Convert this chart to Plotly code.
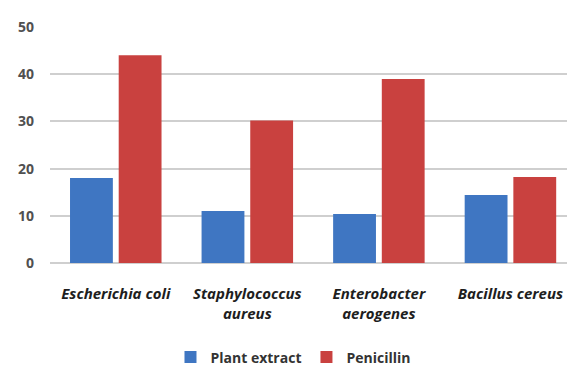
import plotly.graph_objects as go

categories = ["Escherichia coli", "Staphylococcus<br>aureus", "Enterobacter<br>aerogenes", "Bacillus cereus"]
plant_extract = [18, 11, 10.4, 14.4]
penicillin = [44, 30.2, 39, 18.2]
y_ticks = [0, 10, 20, 30, 40, 50]

fig = go.Figure()
fig.add_trace(go.Bar(name="Plant extract", x=categories, y=plant_extract,
                     marker=dict(color="#3f76c2", line=dict(width=0))))
fig.add_trace(go.Bar(name="Penicillin", x=categories, y=penicillin,
                     marker=dict(color="#c9413f", line=dict(width=0))))

fig.update_layout(
    width=567, height=374,
    margin=dict(l=50, r=0, t=27, b=111, autoexpand=False),
    paper_bgcolor="white", plot_bgcolor="white",
    barmode="group", bargap=0.26, bargroupgap=0.12,
    font=dict(family="Open Sans, sans-serif", color="#404040"),
    showlegend=True,
    legend=dict(orientation="h", x=0.47, xanchor="center", y=-0.468, yanchor="bottom",
                font=dict(size=14, color="#333333", weight="bold"), itemwidth=30,
                tracegroupgap=0),
)
fig.update_xaxes(
    range=[-0.5, 3.43], showgrid=False, showline=False, ticks="", automargin=False,
    ticklabelstandoff=20,
    tickfont=dict(family="Open Sans, sans-serif", size=15, color="#1e1e1e", style="italic", weight="bold"),
)
fig.update_yaxes(
    range=[0, 50], tickvals=y_ticks, showgrid=True, gridcolor="#cfcfcf", gridwidth=2,
    zeroline=True, zerolinecolor="#cfcfcf", zerolinewidth=2, showline=False, ticks="",
    ticklabelstandoff=15, automargin=False,
    tickfont=dict(size=14, color="#505050", weight="bold"),
)

fig.write_html("out.html")
